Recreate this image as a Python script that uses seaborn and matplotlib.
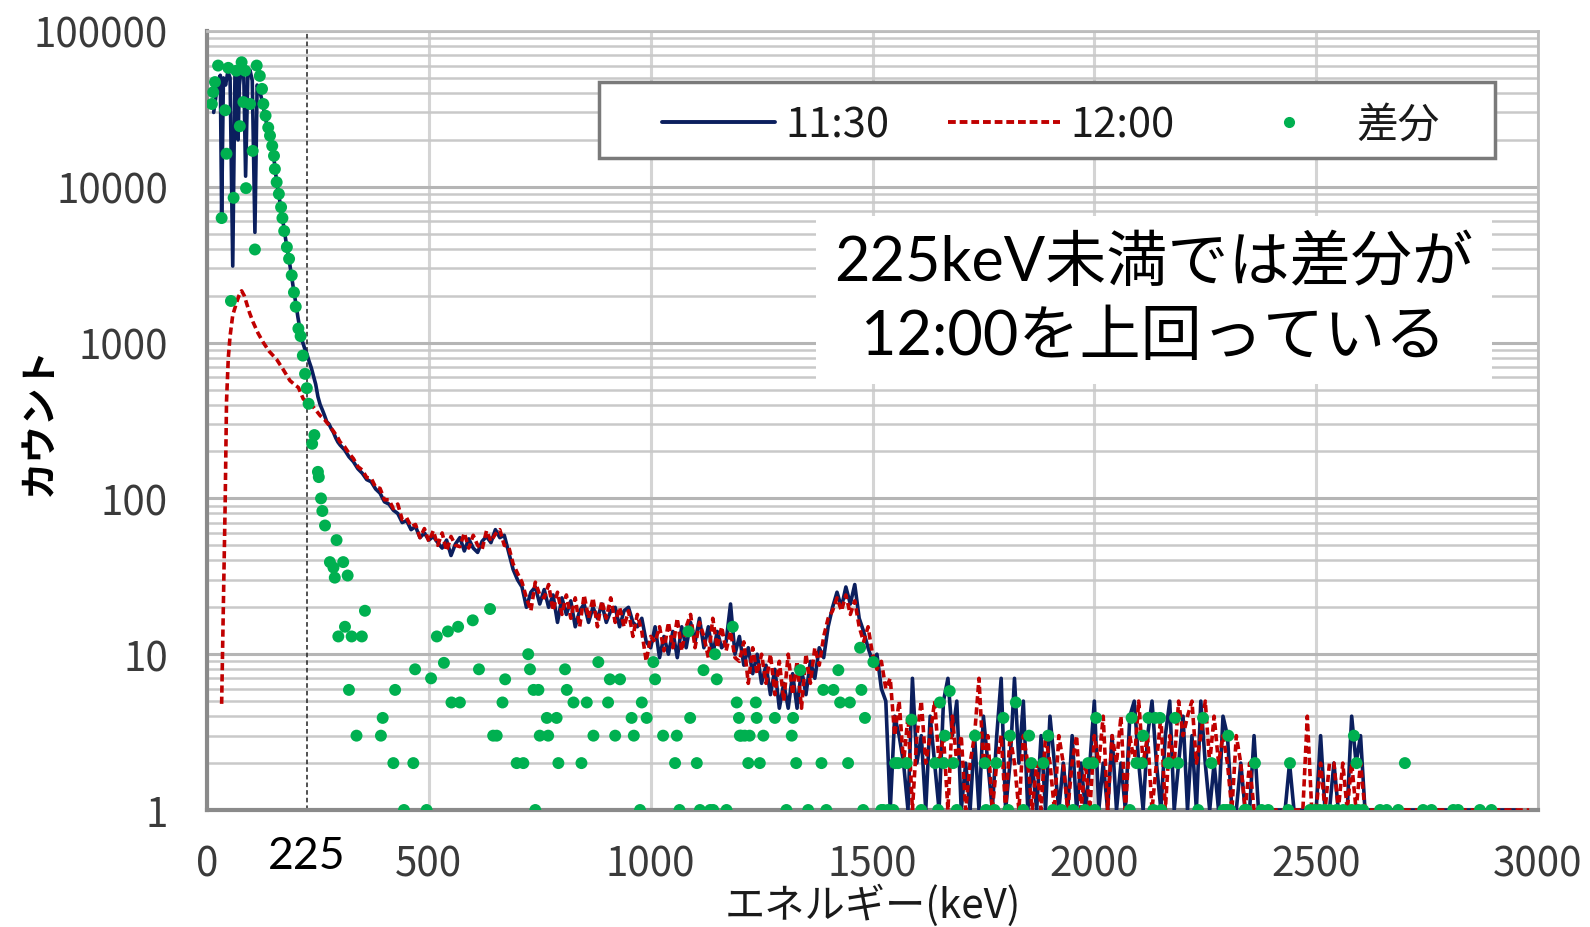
import matplotlib
matplotlib.use("Agg")
import matplotlib.pyplot as plt
import seaborn as sns
import numpy as np
import pandas as pd
from matplotlib.lines import Line2D
from matplotlib.patches import Rectangle
from matplotlib.ticker import FixedLocator, LogLocator, NullFormatter
import matplotlib.transforms as mtransforms

# ---------------- data ----------------
# 11:30 spectrum
e1130_low = [15, 20, 25, 30, 33, 37, 42, 47, 52, 58, 63, 68, 70, 73, 78, 83, 87, 92, 97, 102,
             108, 113, 118, 125, 130, 135, 140, 145, 150, 155, 160, 165, 170, 175, 180, 185,
             190, 195, 200, 205, 210, 215, 220, 225, 230, 235, 240, 245, 250, 255, 260, 265,
             270, 275, 280, 285, 290, 295, 300]
c1130_low = [30000, 38000, 48000, 52000, 6500, 50000, 45000, 55000, 50000, 3100, 52000, 56000,
             20000, 45000, 60000, 50000, 11700, 52000, 56000, 48000,
             5100, 45000, 42000, 35000, 29000, 25000, 22000, 19000, 16000, 12000, 9500, 7800,
             6300, 5100, 4100, 3400, 2750, 2200, 1800, 1450, 1200, 1020, 920, 850, 760, 690,
             610, 540, 450, 400, 370, 340, 310, 300, 280, 265, 245, 230, 220]
e1130_high = list(range(310, 2960, 10))
c1130_high = [
    205, 185, 172, 155, 145, 132, 128, 115, 108, 95,
    92, 84, 80, 70, 72, 63, 66, 56, 60, 54,
    57, 52, 48, 54, 43, 51, 56, 46, 55, 48,
    45, 53, 57, 52, 63, 56, 58, 45, 35, 30,
    27, 20, 25, 27, 21, 26, 20, 24, 16, 23,
    18, 22, 15, 19, 21, 16, 20, 17, 21, 16,
    19, 20, 15, 19, 20, 16, 15, 17, 12, 11,
    15, 9.5, 13, 10, 14, 9.5, 15, 11, 16, 12,
    17, 11, 15, 10, 14, 11, 12, 21, 10, 13,
    8.5, 11, 7.5, 10, 6.5, 8.5, 5.5, 8, 4.5, 6.5,
    4.5, 7.5, 4.5, 8, 5.5, 9, 7, 11, 9.5, 15,
    20, 25, 20, 27, 21, 28, 17, 14, 11, 9,
    10, 6, 5, 1, 4, 3, 2, 1, 7, 2,
    3, 1, 4, 2, 1, 5, 7, 3, 5, 1,
    2, 1, 3, 1, 4, 2, 1, 3, 7, 1,
    2, 7, 2, 5, 1, 2, 1, 3, 1, 4,
    2, 1, 2, 1, 3, 1, 2, 1, 2, 5,
    1, 2, 1, 3, 1, 2, 1, 4, 5, 2,
    1, 3, 5, 2, 1, 3, 5, 1, 2, 4,
    1, 3, 1, 5, 2, 1, 2, 1, 4, 3,
    1, 1, 2, 1, 1, 3, 1, 1, 1, 1,
    1, 1, 1, 2, 1, 1, 1, 1, 1, 1,
    3, 1, 1, 2, 1, 1, 1, 4, 2, 3,
    1, 1, 1, 1, 1, 1, 1, 1, 1, 1,
    1, 1, 1, 1, 1, 1, 1, 1, 1, 1,
    1, 1, 1, 1, 1, 1, 1, 1, 1, 1,
    1, 1, 1, 1, 1]

# 12:00 spectrum
e1200_low = [33, 37, 41, 44, 48, 52, 58, 67, 72, 78, 84, 89, 96, 104, 115, 127, 140, 157, 172,
             187, 200, 206, 212, 217, 228, 240, 255, 265, 275, 285, 295, 300]
c1200_low = [4.8, 22, 95, 420, 800, 1100, 1500, 1820, 2000, 2150, 2000, 1800, 1550, 1350, 1150,
             1000, 880, 780, 670, 570, 530, 515, 470, 435, 410, 385, 340, 320, 295, 270, 245, 230]
e1200_high = list(range(310, 2990, 10))
c1200_high = [
    215, 195, 180, 160, 152, 136, 135, 118, 116, 98,
    98, 86, 92, 73, 75, 66, 68, 56, 64, 53,
    62, 50, 60, 46, 57, 50, 49, 60, 48, 58,
    50, 47, 62, 53, 59, 63, 50, 49, 38, 33,
    29, 23, 19, 29, 24, 23, 28, 19, 25, 18,
    24, 17, 23, 15, 24, 17, 23, 15, 22, 17,
    23, 16, 20, 15, 19, 13, 18, 14, 9, 13,
    12, 15, 10.5, 16, 11, 17, 10.5, 15, 18, 11,
    16, 13, 9.5, 17, 11, 15, 10.5, 14, 9.5, 9,
    12, 6.5, 11, 7.5, 10, 6.5, 10, 5.5, 9, 5,
    10, 5.5, 9, 4.5, 10, 6.5, 11, 8.5, 13, 17,
    19, 23, 19, 24, 18, 22, 15, 12, 15, 10,
    8, 9, 6, 7, 3, 5, 2, 4, 1, 3,
    5, 2, 3, 5, 2, 3, 1, 4, 2, 3,
    1, 2, 3, 7, 2, 3, 1, 2, 3, 1,
    3, 2, 1, 3, 2, 1, 2, 1, 3, 2,
    1, 3, 2, 1, 2, 3, 1, 2, 1, 3,
    2, 4, 1, 3, 2, 4, 1, 3, 2, 5,
    2, 3, 1, 2, 4, 1, 3, 2, 5, 3,
    4, 5, 2, 3, 5, 2, 4, 2, 3, 2,
    1, 3, 2, 1, 2, 1, 1, 1, 1, 1,
    1, 1, 1, 1, 1, 1, 1, 4, 1, 1,
    2, 1, 2, 2, 1, 2, 1, 2, 1, 2,
    1, 1, 1, 1, 1, 1, 1, 1, 1, 1,
    1, 1, 1, 1, 1, 1, 1, 1, 1, 1,
    1, 1, 1, 1, 1, 1, 1, 1, 1, 1,
    1, 1, 1, 1, 1, 1, 1, 1]

# difference (差分) points
diff_e = [11, 14, 18, 25, 33, 41, 44, 48, 54, 60, 66, 74, 78, 82, 86, 88, 97, 103, 108, 112,
          119, 124, 127, 132, 138, 142, 147, 151, 153, 157, 162, 167, 170, 174, 180, 185, 191,
          196, 200, 206, 211, 216, 221, 225, 229, 237, 242, 250, 252, 257, 260, 266, 277, 285,
          288, 292, 296, 307, 311, 317, 320, 326, 337, 349, 356, 392, 396, 420, 424, 444, 465,
          469, 495, 505, 518, 534, 543, 551, 566, 570, 599, 613, 638, 645, 653, 666, 672, 698,
          713, 724, 728, 736, 740, 747, 750, 766, 769, 788, 792, 807, 811, 826, 844, 856, 871,
          882, 904, 908, 920, 931, 957, 962, 976, 980, 991, 1006, 1010, 1028, 1055, 1059, 1065,
          1085, 1089, 1104, 1111, 1119, 1134, 1141, 1145, 1149, 1171, 1185, 1194, 1199, 1201,
          1204, 1212, 1220, 1223, 1237, 1239, 1246, 1254, 1280, 1306, 1318, 1321, 1328, 1337,
          1355, 1385, 1389, 1396, 1412, 1423, 1427, 1445, 1449, 1472, 1475, 1479, 1483, 1502,
          1520, 1524, 1535, 1547, 1551, 1558, 1577, 1588, 1610, 1641, 1648, 1652, 1660, 1663,
          1674, 1682, 1690, 1731, 1753, 1756, 1775, 1779, 1795, 1806, 1810, 1823, 1840, 1853,
          1858, 1885, 1896, 1907, 1926, 1952, 1979, 1986, 1997, 2001, 2004, 2080, 2084, 2095,
          2107, 2110, 2122, 2133, 2137, 2148, 2151, 2167, 2182, 2189, 2234, 2245, 2264, 2291,
          2298, 2302, 2306, 2339, 2343, 2362, 2377, 2392, 2437, 2441, 2486, 2497, 2508, 2519,
          2531, 2546, 2561, 2580, 2585, 2591, 2595, 2606, 2644, 2659, 2685, 2700, 2741, 2760,
          2809, 2820, 2869, 2895]
diff_c = [34000, 40500, 47000, 60000, 6300, 31000, 16300, 58000, 1850, 8500, 55600, 24500, 63000,
          35000, 55600, 9800, 34000, 17000, 3960, 60000,
          51500, 42500, 34000, 28600, 24000, 21300, 18300, 15800, 13000, 10700, 9000, 7400, 6300,
          5200, 4100, 3450, 2700,
          2100, 1700, 1230, 1100, 825, 630, 510, 405, 224, 255, 148, 137, 100, 83, 67, 39, 36,
          31, 54, 13, 39, 15, 32, 5.9, 13, 3, 13, 19, 3, 3.9, 2, 5.9, 1, 2,
          8, 1, 7, 13, 8.8, 14, 4.9, 15, 4.9, 16.5, 8, 19.5, 3, 3, 4.9, 6.9, 2,
          2, 10, 8, 5.9, 1, 5.9, 3, 3.9, 3, 3.9, 2, 8, 5.9, 4.9, 2, 4.9, 3,
          8.9, 4.9, 6.9, 3, 6.9, 3.9, 3, 1, 4.9, 3.9, 8.9, 6.9, 3, 2, 3, 1,
          14, 3.9, 2, 1, 7.9, 1, 1, 10, 6.9, 1, 15, 4.9, 3.9, 3,
          3, 3, 2, 3, 4.9, 3.9, 2, 3, 3.9, 1, 3, 3.9, 2, 7.9,
          1, 2, 5.9, 1, 5.9, 7.9, 4.9, 2, 4.9, 11, 5.9, 1, 3.9, 8.9,
          1, 1, 1, 1, 2, 2, 2, 3.8, 1, 2, 1, 4.9, 2, 3,
          5.8, 2, 1, 3, 2, 1, 1, 2, 3.9, 1, 3, 4.9, 1, 3,
          2, 2, 3, 1, 1, 1, 1, 2, 2, 1, 3.9, 1, 3.9, 2,
          2, 3, 3.9, 1, 3.9, 3.9, 1, 2, 3.9, 2, 1, 3.9, 2, 1,
          1, 3, 1, 1, 1, 2, 1, 1, 1, 2, 1, 1, 1, 1,
          1, 1, 1, 1, 3, 2, 1, 1, 1, 1, 1, 2, 1, 1,
          1, 1, 1, 1]

x_ticks = [0, 500, 1000, 1500, 2000, 2500, 3000]
y_ticks = [1, 10, 100, 1000, 10000, 100000]
y_tick_labels = ["1", "10", "100", "1000", "10000", "100000"]
series_labels = ["11:30", "12:00", "差分"]
marker_energy = 225

# ---------------- styling ----------------
NAVY = "#0b1f5e"
RED = "#c00000"
GREEN = "#00b050"
GRID = "#c9c9c9"

sns.set_theme(style="white")
plt.rcParams["font.family"] = ["Noto Sans CJK JP", "DejaVu Sans"]

fig = plt.figure(figsize=(15.9, 9.28), dpi=100)
ax = fig.add_axes([207 / 1590, (928 - 811) / 928, 1331 / 1590, 779 / 928])
ax.set_facecolor("white")

df1130 = pd.DataFrame({"e": e1130_low + e1130_high, "c": c1130_low + c1130_high})
df1200 = pd.DataFrame({"e": e1200_low + e1200_high, "c": c1200_low + c1200_high})
dfdiff = pd.DataFrame({"e": diff_e, "c": diff_c})

ax.set_yscale("log")
sns.lineplot(data=df1130, x="e", y="c", ax=ax, color=NAVY, lw=2.6,
             estimator=None, sort=False, zorder=3)
sns.lineplot(data=df1200, x="e", y="c", ax=ax, color=RED, lw=2.6,
             estimator=None, sort=False, zorder=3.2)
ax.lines[-1].set_linestyle((0, (2.0, 1.1)))
sns.scatterplot(data=dfdiff, x="e", y="c", ax=ax, color=GREEN, s=74,
                edgecolor="none", linewidth=0, zorder=4)

ax.set_xlim(0, 3000)
ax.set_ylim(1, 100000)

ax.xaxis.set_major_locator(FixedLocator(x_ticks))
ax.set_xticklabels([str(t) for t in x_ticks])
ax.yaxis.set_major_locator(FixedLocator(y_ticks))
ax.set_yticklabels(y_tick_labels)
ax.yaxis.set_minor_locator(LogLocator(base=10, subs=np.arange(2, 10)))
ax.yaxis.set_minor_formatter(NullFormatter())

ax.grid(which="major", axis="y", color="#b5b5b5", lw=2.2, zorder=0)
ax.grid(which="minor", axis="y", color=GRID, lw=1.8, zorder=0)
ax.grid(which="major", axis="x", color="#d4d4d4", lw=2.2, zorder=0)
ax.set_axisbelow(True)

ax.tick_params(axis="both", which="both", length=0)
ax.tick_params(axis="y", pad=28, labelsize=29, labelcolor="#3a3a3a")
ax.tick_params(axis="x", pad=24, labelsize=29, labelcolor="#3a3a3a")

for side in ["left", "bottom"]:
    ax.spines[side].set_color("#8a8a8a")
    ax.spines[side].set_linewidth(3)
ax.spines["right"].set_color("#bdbdbd")
ax.spines["right"].set_linewidth(2)
ax.spines["top"].set_color("#bdbdbd")
ax.spines["top"].set_linewidth(2)

ax.axvline(marker_energy, color="#222222", lw=1.1, ls=(0, (3, 2)), zorder=2.5)

ax.set_xlabel("エネルギー(keV)", fontsize=29, color="#1a1a1a")
ax.set_ylabel("カウント", fontsize=27, fontweight="bold", color="black")
ax.yaxis.set_label_coords(-0.112, 0.5)
ax.xaxis.set_label_coords(0.5, -0.094)

trans = mtransforms.blended_transform_factory(ax.transData, ax.transAxes)
ax.text(marker_energy, -0.058, str(marker_energy), transform=trans, ha="center", va="center",
        fontsize=32, family=["Lato", "DejaVu Sans"], color="black")

ax.text(0.7115, 0.655, "225keV未満では差分が\n12:00を上回っている", transform=ax.transAxes,
        ha="center", va="center", fontsize=44, family=["Lato", "Noto Sans CJK JP"],
        color="black", linespacing=1.38, zorder=6,
        bbox=dict(boxstyle="square,pad=0.3", facecolor="white", edgecolor="none"))

# legend
ax.add_patch(Rectangle((0.2945, 0.837), 0.6735, 0.0975, transform=ax.transAxes,
                       facecolor="white", edgecolor="#7a7a7a", lw=2.5, zorder=6))
handles = [Line2D([], [], color=NAVY, lw=2.8),
           Line2D([], [], color=RED, lw=2.8, ls=(0, (2, 1))),
           Line2D([], [], color="none", marker="o", markersize=7,
                  markerfacecolor=GREEN, markeredgecolor=GREEN)]
leg = ax.legend(handles, series_labels, loc="center", bbox_to_anchor=(0.634, 0.879),
                ncol=3, frameon=False, fontsize=30, handlelength=2.7,
                handletextpad=0.25, columnspacing=1.4, borderaxespad=0)
leg.set_zorder(7)
for t in leg.get_texts():
    t.set_color("#1a1a1a")

fig.savefig("out.png", dpi=100, facecolor="white")
